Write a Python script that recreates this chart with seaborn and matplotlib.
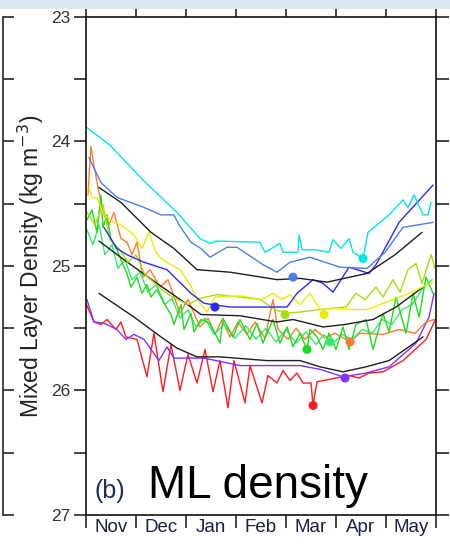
import numpy as np
import pandas as pd
import matplotlib
matplotlib.use("Agg")
import matplotlib.pyplot as plt
from matplotlib.patches import Rectangle
import seaborn as sns

# ---------------- data (x in months since 1 Nov, y in kg m^-3 (sigma)) -------------
months = ["Nov", "Dec", "Jan", "Feb", "Mar", "Apr", "May"]

cyan_x = [0.02, 0.48, 1.14, 1.82, 2.28, 2.48, 2.62, 3.48, 3.58, 3.88, 3.94, 4.24, 4.26, 4.32,
          4.58, 4.86, 4.94, 5.10, 5.26, 5.34, 5.54, 5.64, 6.06, 6.34, 6.44, 6.56, 6.74, 6.84, 6.90]
cyan_y = [23.89, 24.03, 24.31, 24.57, 24.78, 24.82, 24.80, 24.81, 24.89, 24.82, 24.89, 24.89, 24.75, 24.87,
          24.87, 24.89, 24.79, 24.86, 24.78, 24.89, 24.94, 24.73, 24.59, 24.47, 24.53, 24.43, 24.59, 24.59, 24.49]

corn_x = [0.06, 0.30, 0.62, 1.16, 1.50, 1.76, 1.86, 2.10, 2.30, 2.48, 2.82, 3.02, 3.54, 3.82,
          4.08, 4.48, 5.08, 5.62, 5.98, 6.34, 6.94]
corn_y = [24.13, 24.33, 24.45, 24.53, 24.59, 24.59, 24.67, 24.81, 24.86, 24.93, 24.85, 24.85, 24.99, 25.05,
          24.97, 24.93, 25.01, 25.02, 24.89, 24.69, 24.65]

blue_x = [0.36, 0.62, 0.82, 1.16, 1.62, 2.10, 2.36, 2.88, 4.02, 4.22, 4.54, 4.74, 4.94, 5.26,
          5.66, 5.80, 6.26, 6.94]
blue_y = [24.69, 24.86, 24.91, 24.97, 25.03, 25.22, 25.30, 25.33, 25.33, 25.22, 25.11, 25.14, 25.21, 25.01,
          25.06, 24.99, 24.65, 24.35]

blk1_x = [0.26, 0.70, 1.30, 1.76, 2.22, 2.88, 3.82, 4.28, 4.82, 5.62, 6.18, 6.72]
blk1_y = [24.37, 24.49, 24.73, 24.86, 25.03, 25.05, 25.11, 25.10, 25.13, 25.06, 24.91, 24.73]

blk2_x = [0.26, 0.76, 1.42, 2.10, 2.30, 3.08, 3.82, 4.14, 4.74, 5.18, 5.74, 6.20, 6.74]
blk2_y = [24.80, 24.95, 25.14, 25.33, 25.39, 25.40, 25.45, 25.43, 25.49, 25.47, 25.43, 25.33, 25.17]

blk3_x = [0.26, 0.96, 1.50, 1.82, 2.22, 2.68, 3.62, 4.28, 4.68, 5.14, 5.60, 6.06, 6.74]
blk3_y = [25.22, 25.41, 25.57, 25.66, 25.73, 25.73, 25.76, 25.76, 25.81, 25.85, 25.81, 25.76, 25.57]

purp_x = [0.02, 0.16, 0.36, 0.62, 0.80, 0.96, 1.16, 1.46, 1.62, 1.76, 2.36, 3.08, 3.62, 4.28,
          4.68, 5.14, 5.60, 6.06, 6.60, 6.86, 6.96]
purp_y = [25.27, 25.45, 25.46, 25.51, 25.59, 25.55, 25.59, 25.76, 25.65, 25.74, 25.74, 25.80, 25.80, 25.80,
          25.83, 25.89, 25.86, 25.81, 25.62, 25.41, 25.22]

red_x = [0.00, 0.16, 0.30, 0.42, 0.60, 0.70, 0.80, 1.02, 1.22, 1.36, 1.54, 1.70, 1.88, 2.04, 2.22,
         2.38, 2.54, 2.68, 2.84, 2.96, 3.18, 3.28, 3.52, 3.64, 3.82, 3.94, 4.08, 4.22, 4.34, 4.50,
         4.54, 4.62, 5.00, 5.26, 5.46, 5.66, 5.94, 6.34, 6.80, 7.00]
red_y = [25.30, 25.45, 25.47, 25.43, 25.51, 25.45, 25.57, 25.59, 25.89, 25.54, 26.01, 25.63, 26.00, 25.71, 25.94,
         25.67, 26.01, 25.76, 26.14, 25.76, 26.10, 25.80, 26.10, 25.88, 25.94, 25.84, 25.92, 25.86, 25.94, 25.94,
         26.12, 25.93, 25.90, 25.88, 25.90, 25.86, 25.85, 25.76, 25.59, 25.42]

orng_x = [0.04, 0.10, 0.16, 0.26, 0.36, 0.46, 0.56, 0.70, 0.82, 0.92, 1.02, 1.14, 1.28, 1.48, 1.64,
          1.88, 2.04, 2.28, 2.44, 2.58, 2.72, 2.88, 3.04, 3.22, 3.38, 3.58, 3.74, 3.84, 4.04, 4.20,
          4.38, 4.58, 4.78, 4.98, 5.28, 5.48, 5.94, 6.26, 6.58, 6.80, 6.96]
orng_y = [24.43, 24.04, 24.19, 24.41, 24.59, 24.67, 24.57, 24.78, 24.81, 24.91, 24.81, 25.09, 25.03, 25.17, 25.11,
          25.38, 25.27, 25.49, 25.42, 25.55, 25.43, 25.57, 25.45, 25.55, 25.45, 25.58, 25.27, 25.51, 25.59, 25.50,
          25.59, 25.51, 25.58, 25.54, 25.61, 25.54, 25.55, 25.51, 25.54, 25.45, 25.43]

yell_x = [0.06, 0.12, 0.22, 0.36, 0.56, 0.70, 0.96, 1.12, 1.26, 1.40, 1.50, 1.70, 1.88, 2.08, 2.28,
          2.42, 2.58, 3.08, 3.52, 3.74, 3.92, 4.08, 4.28, 4.48, 4.68, 4.98, 5.28, 5.62, 5.94, 6.46, 6.94]
yell_y = [24.37, 24.45, 24.45, 24.59, 24.65, 24.67, 24.75, 24.86, 24.73, 24.89, 24.94, 24.99, 25.03, 25.15, 25.30,
          25.37, 25.25, 25.24, 25.27, 25.22, 25.27, 25.23, 25.31, 25.22, 25.35, 25.34, 25.35, 25.35, 25.30, 25.22, 25.13]

chrt_x = [0.02, 0.18, 0.34, 0.48, 0.68, 0.84, 1.00, 1.18, 1.38, 1.58, 1.78, 2.04, 2.28, 2.62, 3.08,
          3.48, 3.78, 3.98, 4.28, 4.68, 5.20, 5.40, 5.58, 5.80, 5.94, 6.14, 6.28, 6.44, 6.60, 6.72, 6.90, 6.98]
chrt_y = [24.57, 24.67, 24.51, 24.79, 24.87, 24.97, 24.91, 25.07, 25.14, 25.21, 25.26, 25.31, 25.26, 25.23, 25.25,
          25.27, 25.35, 25.38, 25.37, 25.35, 25.33, 25.22, 25.27, 25.17, 25.25, 25.11, 25.21, 25.03, 24.98, 25.14, 24.91, 25.02]

gren_x = [0.02, 0.12, 0.22, 0.30, 0.34, 0.42, 0.50, 0.62, 0.72, 0.82, 0.90, 1.02, 1.12, 1.22, 1.30,
          1.42, 1.56, 1.70, 1.76, 1.90, 1.96, 2.10, 2.16, 2.30, 2.48, 2.68, 2.74, 2.94, 3.08, 3.28,
          3.42, 3.54, 3.74, 3.88, 4.02, 4.14, 4.28, 4.42, 4.48, 4.62, 4.74, 4.86, 5.00, 5.14, 5.26,
          5.40, 5.60, 5.74, 5.94, 6.06, 6.20, 6.40, 6.54, 6.66, 6.80, 6.94]
gren_y = [24.63, 24.55, 24.73, 24.43, 24.69, 24.59, 24.79, 24.87, 24.97, 25.06, 25.17, 25.09, 25.22, 25.15, 25.25,
          25.19, 25.30, 25.39, 25.47, 25.31, 25.51, 25.38, 25.53, 25.43, 25.46, 25.62, 25.42, 25.57, 25.43, 25.59,
          25.46, 25.62, 25.43, 25.62, 25.49, 25.65, 25.54, 25.67, 25.51, 25.57, 25.67, 25.54, 25.67, 25.49, 25.67,
          25.47, 25.43, 25.67, 25.38, 25.53, 25.25, 25.54, 25.22, 25.41, 25.09, 25.22]

sprg_x = [0.02, 0.14, 0.26, 0.38, 0.52, 0.64, 0.78, 0.92, 1.08, 1.24, 1.40, 1.58, 1.72, 1.88, 2.04,
          2.20, 2.38, 2.56, 2.76, 2.98, 3.20, 3.40, 3.60, 3.80, 4.00, 4.20, 4.40, 4.60, 4.76, 4.92,
          5.12, 5.32, 5.52, 5.72, 5.92, 6.12, 6.32, 6.52, 6.72, 6.92]
sprg_y = [24.71, 24.83, 24.67, 24.91, 24.83, 25.02, 24.95, 25.11, 25.05, 25.21, 25.15, 25.31, 25.26, 25.42, 25.35,
          25.49, 25.42, 25.55, 25.47, 25.58, 25.48, 25.59, 25.50, 25.61, 25.51, 25.62, 25.53, 25.63, 25.55, 25.63,
          25.55, 25.59, 25.51, 25.54, 25.43, 25.47, 25.35, 25.31, 25.19, 25.11]

# highlighted points (one per series)
dot_series = ["cyan", "corn", "blue", "chrt", "yell", "gren", "sprg", "orng", "purp", "red"]
dot_x = [5.54, 4.14, 2.58, 3.98, 4.76, 4.42, 4.88, 5.28, 5.18, 4.54]
dot_y = [24.94, 25.09, 25.33, 25.39, 25.39, 25.67, 25.61, 25.61, 25.90, 26.12]

# ---------------- styling ----------------
palette = {
    "cyan": "#00e6e6", "corn": "#4d80e6", "blue": "#2a2aff",
    "blk1": "#1e1e1e", "blk2": "#1e1e1e", "blk3": "#1e1e1e",
    "purp": "#7a35ff", "red": "#ff1a22", "orng": "#ff7b2a",
    "yell": "#f0e800", "chrt": "#a6dc12", "gren": "#1cdc1c", "sprg": "#33ea6a",
}
draw_order = ["red", "purp", "blk3", "orng", "sprg", "gren", "blk2", "chrt", "yell",
              "blue", "blk1", "corn", "cyan"]

series = {
    "cyan": (cyan_x, cyan_y), "corn": (corn_x, corn_y), "blue": (blue_x, blue_y),
    "blk1": (blk1_x, blk1_y), "blk2": (blk2_x, blk2_y), "blk3": (blk3_x, blk3_y),
    "purp": (purp_x, purp_y), "red": (red_x, red_y), "orng": (orng_x, orng_y),
    "yell": (yell_x, yell_y), "chrt": (chrt_x, chrt_y), "gren": (gren_x, gren_y),
    "sprg": (sprg_x, sprg_y),
}

frames = []
for name in draw_order:
    xs, ys = series[name]
    frames.append(pd.DataFrame({"month": xs, "density": ys, "series": name}))
df = pd.concat(frames, ignore_index=True)
dots = pd.DataFrame({"month": dot_x, "density": dot_y, "series": dot_series})

sns.set_style("ticks")
plt.rcParams["font.family"] = ["Liberation Sans", "DejaVu Sans"]

fig = plt.figure(figsize=(4.5, 5.48), dpi=100)
fig.patch.set_facecolor("white")
fig.patches.append(Rectangle((0, 1 - 9 / 548), 1, 9 / 548, transform=fig.transFigure,
                             facecolor="#dbe9f2", edgecolor="none", zorder=0))

# remnant of neighbouring panel on the far left
axl = fig.add_axes([-0.6, 0.0602, 0.6067, 0.909])
axl.set_ylim(27, 23)
axl.set_xlim(0, 1)
for s in ["left", "top", "bottom"]:
    axl.spines[s].set_visible(False)
axl.spines["right"].set_linewidth(1.2)
axl.set_xticks([])
axl.set_yticks(np.arange(23, 27.01, 0.5))
axl.yaxis.tick_right()
axl.tick_params(axis="y", direction="out", length=8, width=1.2, labelright=False)

ax = fig.add_axes([0.191, 0.0602, 0.778, 0.909])
sns.lineplot(data=df, x="month", y="density", hue="series", palette=palette,
             hue_order=draw_order, estimator=None, sort=False, linewidth=1.0,
             legend=False, ax=ax)
sns.scatterplot(data=dots, x="month", y="density", hue="series", palette=palette,
                s=42, edgecolor="none", legend=False, ax=ax, zorder=5)

ax.set_xlim(0, 7)
ax.set_ylim(27, 23)
ax.set_xlabel("")
ax.set_ylabel("Mixed Layer Density (kg m$^{-3}$)", fontsize=16.5, color="#222222", labelpad=4)

ax.set_yticks(np.arange(23, 27.01, 1.0))
ax.set_yticks(np.arange(23.5, 27, 1.0), minor=True)
ax.set_yticklabels([f"{v:d}" for v in range(23, 28)], fontsize=12.5, color="#333333")
ax.tick_params(axis="y", which="both", direction="out", length=9, width=1.2,
               left=True, right=True, pad=2)

ax.set_xticks(np.arange(0, 7.01, 1.0))
ax.set_xticklabels([])
ax.set_xticks(np.arange(0.5, 7, 1.0), minor=True)
ax.set_xticklabels(months, minor=True, fontsize=13.5, color="#1c2044")
ax.tick_params(axis="x", which="major", direction="out", length=9, width=1.2,
               top=True, bottom=True)
ax.tick_params(axis="x", which="minor", length=0, pad=3)

for s in ax.spines.values():
    s.set_visible(True)
    s.set_linewidth(1.2)
    s.set_color("#111111")

ax.text(0.025, 0.035, "(b)", transform=ax.transAxes, fontsize=18, color="#1f2f5c",
        ha="left", va="baseline")
ax.text(0.177, 0.035, "ML density", transform=ax.transAxes, fontsize=33, color="black",
        ha="left", va="baseline")

fig.savefig("out.png", dpi=100)
